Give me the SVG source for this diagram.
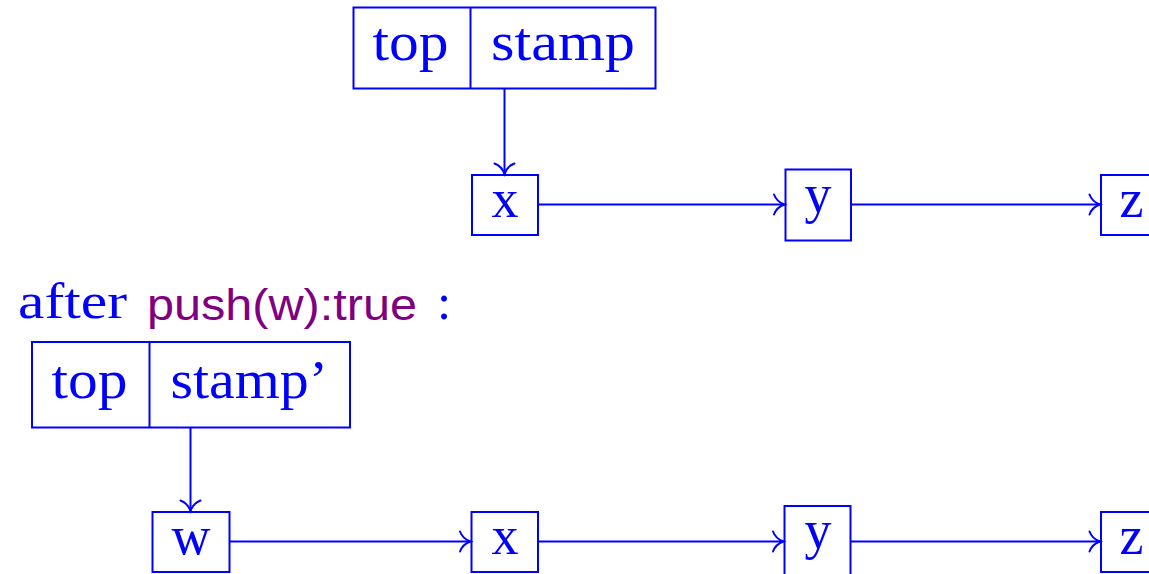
<svg xmlns="http://www.w3.org/2000/svg" width="1149" height="574" viewBox="0 0 1149 574">
  <style>
    .box { fill: none; stroke: #0000ff; stroke-width: 2; }
    .edge { fill: none; stroke: #0000ff; stroke-width: 2; }
    .lbl { font-family: "Liberation Serif", "Times New Roman", serif; font-size: 54px; fill: #0000ff; }
    .mid { text-anchor: middle; }
    .code { font-family: "Liberation Sans", Arial, sans-serif; font-size: 45px; fill: #800080; }
  </style>
  <defs>
    <marker id="to" markerUnits="userSpaceOnUse" markerWidth="30" markerHeight="30" viewBox="-15 -15 30 30" refX="0" refY="0" orient="auto" overflow="visible">
      <path d="M -10.5,-10 C -8.5,-4.5 -3.5,-1.2 0,0 C -3.5,1.2 -8.5,4.5 -10.5,10" fill="none" stroke="#0000ff" stroke-width="2" stroke-linecap="round"/>
    </marker>
  </defs>

  <!-- state before the push -->
  <g id="record-top">
    <rect class="box" x="353.5" y="7.5" width="302" height="81"/>
    <line class="box" x1="470.5" y1="7.5" x2="470.5" y2="88.5"/>
    <text class="lbl" x="372.5" y="60" textLength="76" lengthAdjust="spacingAndGlyphs">top</text>
    <text class="lbl" x="491" y="60" textLength="144" lengthAdjust="spacingAndGlyphs">stamp</text>
  </g>
  <g id="node-x1">
    <rect class="box" x="472" y="175" width="66" height="60"/>
    <text class="lbl mid" x="505" y="217">x</text>
  </g>
  <g id="node-y1">
    <rect class="box" x="785.5" y="169.5" width="65.5" height="71"/>
    <text class="lbl mid" x="818" y="212">y</text>
  </g>
  <g id="node-z1">
    <rect class="box" x="1101" y="175" width="62" height="60"/>
    <text class="lbl mid" x="1131.5" y="217">z</text>
  </g>

  <!-- caption -->
  <g id="caption">
    <text class="lbl" x="18" y="318" style="font-size:51px" textLength="109" lengthAdjust="spacingAndGlyphs">after</text>
    <text class="code" x="147" y="320" textLength="270" lengthAdjust="spacingAndGlyphs">push(w):true</text>
    <text class="lbl" x="437" y="319" style="font-size:51px">:</text>
  </g>

  <!-- state after the push -->
  <g id="record-bottom">
    <rect class="box" x="32" y="342" width="318" height="85.5"/>
    <line class="box" x1="149.5" y1="342" x2="149.5" y2="427.5"/>
    <text class="lbl" x="51.5" y="398" textLength="76" lengthAdjust="spacingAndGlyphs">top</text>
    <text class="lbl" x="170.5" y="398" textLength="157.5" lengthAdjust="spacingAndGlyphs">stamp’</text>
  </g>
  <g id="node-w">
    <rect class="box" x="152.5" y="512" width="77" height="60"/>
    <text class="lbl mid" x="191" y="554">w</text>
  </g>
  <g id="node-x2">
    <rect class="box" x="471.5" y="512" width="66.5" height="60"/>
    <text class="lbl mid" x="505" y="554">x</text>
  </g>
  <g id="node-y2">
    <rect class="box" x="784.5" y="506" width="66" height="71"/>
    <text class="lbl mid" x="818" y="548">y</text>
  </g>
  <g id="node-z2">
    <rect class="box" x="1101" y="512" width="62" height="60"/>
    <text class="lbl mid" x="1131.5" y="554">z</text>
  </g>

  <g id="connectors">
    <line class="edge" x1="504.5" y1="89" x2="504.5" y2="174" marker-end="url(#to)"/>
    <line class="edge" x1="538" y1="204.5" x2="784.5" y2="204.5" marker-end="url(#to)"/>
    <line class="edge" x1="851" y1="204.5" x2="1100" y2="204.5" marker-end="url(#to)"/>
    <line class="edge" x1="190.5" y1="428" x2="190.5" y2="511" marker-end="url(#to)"/>
    <line class="edge" x1="229.5" y1="541.5" x2="470.5" y2="541.5" marker-end="url(#to)"/>
    <line class="edge" x1="538" y1="541.5" x2="783.5" y2="541.5" marker-end="url(#to)"/>
    <line class="edge" x1="850.5" y1="541.5" x2="1100" y2="541.5" marker-end="url(#to)"/>
  </g>
</svg>
